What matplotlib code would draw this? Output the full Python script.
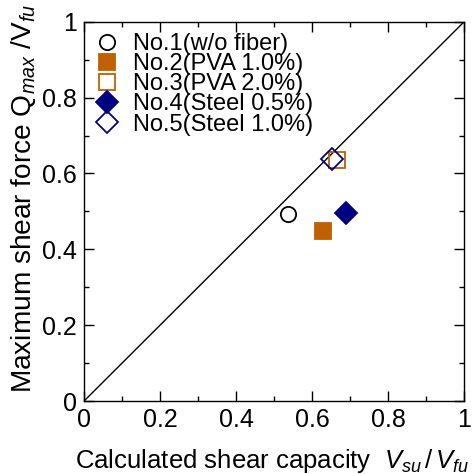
import matplotlib
matplotlib.use("Agg")
import matplotlib.pyplot as plt
from matplotlib.ticker import MultipleLocator

plt.rcParams['font.family'] = ['Liberation Sans', 'DejaVu Sans']
plt.rcParams['mathtext.fontset'] = 'custom'
plt.rcParams['mathtext.rm'] = 'Liberation Sans'
plt.rcParams['mathtext.it'] = 'Liberation Sans:italic'

# specimen results: calculated capacity ratio vs measured ratio
labels = ["No.1(w/o fiber)", "No.2(PVA 1.0%)", "No.3(PVA 2.0%)",
          "No.4(Steel 0.5%)", "No.5(Steel 1.0%)"]
vsu_vfu = [0.537, 0.629, 0.666, 0.689, 0.653]
qmax_vfu = [0.493, 0.449, 0.636, 0.496, 0.638]

markers = ['o', 's', 's', 'D', 'D']
edge_colors = ['black', '#C06000', '#C06000', '#000080', '#000080']
face_colors = ['none', '#C06000', 'none', '#000080', 'none']
sizes = [11, 11, 11, 11, 11]

tick_vals = [0, 0.2, 0.4, 0.6, 0.8, 1.0]
tick_labels = ['0', '0.2', '0.4', '0.6', '0.8', '1']

fig = plt.figure(figsize=(4.75, 4.74), dpi=100)
ax = fig.add_axes([0.177, 0.154, 0.8, 0.8])

ax.plot([0, 1], [0, 1], color='black', linewidth=1.0, zorder=1)

for x, y, lab, m, ec, fc, s in zip(vsu_vfu, qmax_vfu, labels, markers,
                                   edge_colors, face_colors, sizes):
    ax.plot(x, y, linestyle='none', marker=m, markersize=s,
            markeredgecolor=ec, markerfacecolor=fc, markeredgewidth=1.3,
            label=lab, zorder=3)

ax.set_xlim(0, 1)
ax.set_ylim(0, 1)
ax.set_xticks(tick_vals)
ax.set_xticklabels(tick_labels)
ax.set_yticks(tick_vals)
ax.set_yticklabels(tick_labels)
ax.xaxis.set_minor_locator(MultipleLocator(0.1))
ax.yaxis.set_minor_locator(MultipleLocator(0.1))
ax.tick_params(which='both', direction='in', top=True, right=True,
               labelsize=18, width=1.0)
ax.tick_params(which='major', length=7, pad=5)
ax.tick_params(which='minor', length=3.5)
for sp in ax.spines.values():
    sp.set_linewidth(1.0)

# axis titles placed on the figure so they sit where the original has them
fig.text(75 / 475, 1 - 468 / 474,
         r'Calculated shear capacity  $\mathit{V}_{\mathit{su}}\,/\,\mathit{V}_{\mathit{fu}}$',
         fontsize=18.5, ha='left', va='baseline')
fig.text(24 / 475, 1 - 198 / 474,
         r'Maximum shear force Q$_{\mathit{max}}$ /V$_{\mathit{fu}}$',
         fontsize=20.2, rotation=90, ha='center', va='center')

leg = ax.legend(loc='upper left', bbox_to_anchor=(0.0, 1.0), frameon=False,
                fontsize=17, handletextpad=0.6, labelspacing=-0.08,
                handlelength=1.0, borderaxespad=0.08)

fig.savefig("out.png", dpi=100)
